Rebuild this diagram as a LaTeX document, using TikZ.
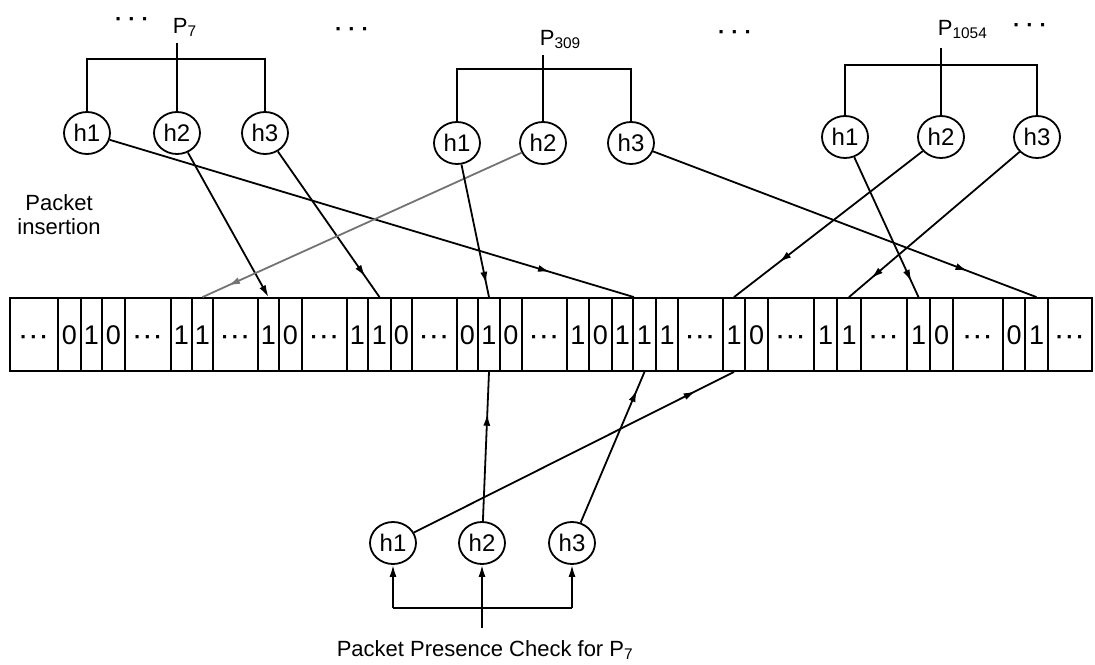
\documentclass[tikz,border=0pt]{standalone}
\usepackage{fontspec}
\setmainfont{Liberation Sans}
\usetikzlibrary{shapes.geometric,arrows.meta,decorations.markings}
\newcommand\tdots[1]{{\bfseries·\kern#1·\kern#1·}}
\newcommand\adots{{\fontsize{22}{24}\selectfont\tdots{3pt}}}
\begin{document}
\begin{tikzpicture}[x=1pt,y=-1pt,
  line width=1.8pt,
  >={Latex[length=12pt,width=7pt]},
  hnode/.style={ellipse,draw,minimum width=46pt,minimum height=42pt,inner sep=0pt,font=\fontsize{24}{26}\selectfont},
  cell/.style={draw,rectangle,minimum height=73pt,inner sep=0pt,text height=19pt,text depth=0pt,font=\fontsize{27}{30}\selectfont},
  lbl/.style={font=\fontsize{22}{24}\selectfont,inner sep=0pt},
  midarrow/.style={postaction={decorate},decoration={markings,mark=at position #1 with {\arrow{Latex[length=12pt,width=7pt]}}}},
]
\useasboundingbox (0,0) rectangle (1095,664);

% bit array
\foreach \l/\r/\t [count=\i] in {10/58/\adots,58/81/0,81/102/1,102/125/0,125/171/\adots,171/192/1,192/213/1,213/258/\adots,258/279/1,279/302/0,302/347/\adots,347/368/1,368/391/1,391/412/0,412/457/\adots,457/478/0,478/500/1,500/522/0,522/567/\adots,567/589/1,589/612/0,612/633/1,633/656/1,656/678/1,678/723/\adots,723/745/1,745/768/0,768/814/\adots,814/837/1,837/861/1,861/907/\adots,907/930/1,930/953/0,953/1003/\adots,1003/1025/0,1025/1048/1,1048/1092/\adots}{
  \pgfmathsetlengthmacro\w{(\r-\l)*1pt}
  \pgfmathsetmacro\cx{(\l+\r)/2}
  \node[cell,minimum width=\w] (b\i) at (\cx,334.5) {\t};
}

% top labels
\node[lbl] (d1) at (132,22) {\tdots{6pt}};
\node[lbl,anchor=base west] (p7) at (172,33) {P\textsubscript{7}};
\node[lbl] (d2) at (352,32) {\tdots{6pt}};
\node[lbl,anchor=base west] (p309) at (539,45) {P\textsubscript{309}};
\node[lbl] (d3) at (735,35) {\tdots{6pt}};
\node[lbl,anchor=base west] (p1054) at (937,35) {P\textsubscript{1054}};
\node[lbl] (d4) at (1030,28) {\tdots{6pt}};

% hash nodes
\node[hnode] (a1) at (87,133) {h1};
\node[hnode] (a2) at (177,133) {h2};
\node[hnode] (a3) at (265,133) {h3};
\node[hnode] (m1) at (457,143) {h1};
\node[hnode] (m2) at (543,143) {h2};
\node[hnode] (m3) at (631,143) {h3};
\node[hnode] (z1) at (845,137) {h1};
\node[hnode] (z2) at (941,137) {h2};
\node[hnode] (z3) at (1037,137) {h3};
\node[hnode] (c1) at (393,543) {h1};
\node[hnode] (c2) at (482,543) {h2};
\node[hnode] (c3) at (572,543) {h3};

% brackets
\coordinate (p7s) at (177,43);
\coordinate (p7b) at (177,59);
\draw (p7s) -- (a2.north);
\draw (a1.north) |- (p7b) -| (a3.north);
\coordinate (p309s) at (543,55);
\coordinate (p309b) at (543,69);
\draw (p309s) -- (m2.north);
\draw (m1.north) |- (p309b) -| (m3.north);
\coordinate (p1054s) at (941,48);
\coordinate (p1054b) at (941,65);
\draw (p1054s) -- (z2.north);
\draw (z1.north) |- (p1054b) -| (z3.north);

\node[lbl,align=center] (pins) at (59,215) {Packet\\insertion};

% insertion connectors
\draw[midarrow=0.84] (a1) -- (b22.north east);
\draw[->] (a2) -- (b9.north);
\draw[midarrow=0.86] (a3) -- (b13.north);
\draw[midarrow=0.92,color=black!55] (m2) -- (b7.north);
\draw[midarrow=0.9] (m1) -- (b17.north);
\draw[midarrow=0.82] (m3) -- (b36.north);
\draw[midarrow=0.89] (z1) -- (b32.north);
\draw[midarrow=0.76] (z2) -- (b26.north);
\draw[midarrow=0.87] (z3) -- (b30.north);

% check connectors
\draw[midarrow=0.88] (c1) -- (b26.south);
\draw[midarrow=0.72] (c2) -- (b17.south);
\draw[midarrow=0.88] (c3) -- (b23.south);

% bottom bracket
\node[lbl] (ctext) at (485,650) {Packet Presence Check for P\textsubscript{7}};
\coordinate (cs) at (482,628);
\coordinate (cbl) at (393,608);
\coordinate (cbr) at (572,608);
\draw (cbl) -- (cbr);
\draw[->] (cbl) -- (c1.south);
\draw[->] (cbr) -- (c3.south);
\draw[->] (cs) -- (c2.south);
\end{tikzpicture}
\end{document}
